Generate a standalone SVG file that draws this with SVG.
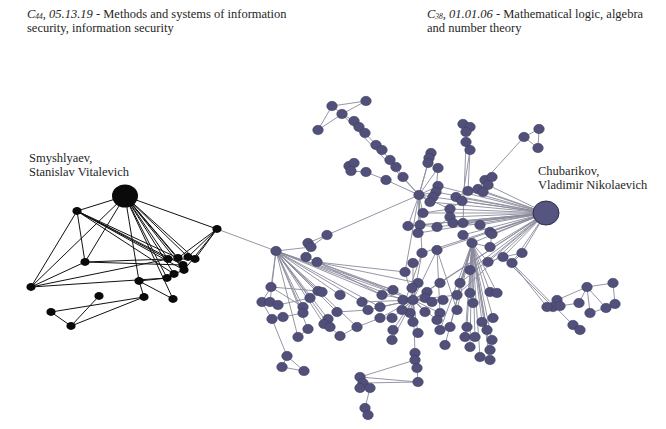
<svg xmlns="http://www.w3.org/2000/svg" width="666" height="429" viewBox="0 0 666 429">
<style>
.t{font-family:"Liberation Serif","Times New Roman",serif;font-size:12.5px;fill:#262626}
.it{font-style:italic}
.sub{font-size:7.5px;font-style:italic}
.ek{stroke:#111;stroke-width:1;fill:none}
.eg{stroke:#8a8a9c;stroke-width:0.9;fill:none}
.nk ellipse{fill:#0a0a0a}
.ng ellipse{fill:#50507a;stroke:#3c3c5c;stroke-width:0.5}
</style>
<rect width="666" height="429" fill="#fff"/>
<g id="titles">
<text class="t" x="27" y="18"><tspan class="it">C</tspan><tspan class="sub" dy="1">44</tspan><tspan class="it" dy="-1">, 05.13.19</tspan> - Methods and systems of information</text>
<text class="t" x="27" y="32">security, information security</text>
<text class="t" x="427" y="18"><tspan class="it">C</tspan><tspan class="sub" dy="1">38</tspan><tspan class="it" dy="-1">, 01.01.06</tspan> - Mathematical logic, algebra</text>
<text class="t" x="427" y="32">and number theory</text>
</g>
<g id="connectors">
<path class="ek" d="M125 196L77 211M125 196L217 229M125 196L85 262M125 196L31 287M125 196L168 259M125 196L178 258M125 196L188 257M125 196L195 259M125 196L183 265M125 196L184 270M125 196L174 274M125 196L167 278M125 196L139 281M125 196L173 299
M77 211L85 262M77 211L31 287M77 211L168 259M77 211L178 258M77 211L183 265M77 211L184 270M77 211L174 274
M31 287L85 262M31 287L168 259M31 287L167 278M85 262L168 259M85 262L183 265
M217 229L188 257M217 229L195 259M217 229L184 270M217 229L178 258
M139 281L167 278M167 278L174 274M174 274L184 270M139 281L144 297M139 281L173 299M51 312L144 297M71 326L144 297M51 312L71 326M99 296L71 326M168 259L195 259"/>
<path class="eg" d="M217 229L276 251"/>
<path class="eg" d="M546 213L438 186M546 213L436 192M546 213L433 197M546 213L430 202M546 213L456 197M546 213L462 201M546 213L468 191M546 213L478 189M546 213L483 192M546 213L488 185M546 213L450 209M546 213L423 213M546 213L450 217M546 213L420 225M546 213L408 226M546 213L437 227M546 213L453 223M546 213L463 223M546 213L480 225M546 213L490 232M546 213L463 235M546 213L472 243M546 213L490 247M546 213L492 234M546 213L418 233M546 213L437 250M546 213L422 253M546 213L503 257M546 213L512 263M546 213L522 253M546 213L488 262M546 213L470 270M546 213L460 283M546 213L440 283M546 213L413 300M546 213L457 295"/>
<path class="eg" d="M419 195L403 177M419 195L386 180M419 195L428 163M419 195L438 168M419 195L327 235M419 195L438 186M419 195L436 192M419 195L433 197M419 195L430 202M419 195L423 213M419 195L420 225M419 195L408 226M419 195L450 209M419 195L342 114M419 195L431 153M419 195L418 233M419 195L422 253M419 195L405 272"/>
<path class="eg" d="M276 251L271 287M276 251L303 307M276 251L303 313M276 251L318 291M276 251L322 292M276 251L340 295M276 251L310 298M276 251L328 319M276 251L324 324M276 251L330 327M276 251L308 329M276 251L337 312M276 251L382 295M276 251L393 290M276 251L413 300M276 251L403 300M276 251L362 302M276 251L357 327M276 251L298 337M276 251L270 302M276 251L311 247M276 251L380 307"/>
<path class="eg" d="M413 300L403 300M413 300L425 298M413 300L432 302M413 300L410 313M413 300L402 310M413 300L425 312M413 300L440 313M413 300L413 322M413 300L418 333M413 300L393 330M413 300L392 340M413 300L380 318M413 300L392 318M413 300L380 307M413 300L368 310M413 300L362 302M413 300L382 295M413 300L393 290M413 300L412 288M413 300L418 283M413 300L427 292M413 300L405 272M413 300L413 263M413 300L422 253M413 300L437 250M413 300L440 283M413 300L443 300M413 300L457 295M413 300L437 320M413 300L415 353"/>
<path class="eg" d="M472 243L482 322M472 243L493 318M472 243L487 330M472 243L492 340M472 243L467 327M472 243L450 327M472 243L465 337M472 243L475 337M472 243L470 347M472 243L490 350M472 243L480 357M472 243L490 360M472 243L473 303M472 243L457 310M472 243L470 293M472 243L490 292M472 243L497 293M472 243L460 283M472 243L488 262M472 243L470 270M472 243L440 330M472 243L445 345M472 243L457 295"/>
<path class="eg" d="M332 106L366 101M332 106L342 114M366 101L342 114M318 130L332 106M318 130L342 114M342 114L354 121L359 127L365 133L376 145L382 150L390 160L396 167L403 177
M349 166L354 163M354 163L351 171M349 166L351 171M351 171L366 172L386 180
M463 124L470 127M470 127L466 132M463 124L466 132M466 132L466 142M466 142L470 150M470 150L468 191M466 142L463 223M470 150L462 201
M431 153L429 158M429 158L428 163M431 153L428 163M438 168L436 192
M524 137L539 129M539 129L538 148M524 137L538 148M524 137L485 180
M485 180L492 177M492 177L488 185M485 180L478 189M478 189L468 191M488 185L483 192M468 191L456 197M456 197L462 201M438 186L436 192M436 192L433 197M433 197L430 202M462 201L450 209M450 209L423 213M450 217L437 227M437 227L420 225M420 225L408 226M453 223L463 223M463 223L480 225M480 225L490 232M463 235L472 243M472 243L490 247M490 247L492 234
M503 257L512 263M512 263L522 253M503 257L522 253M512 263L547 307M503 257L553 307M512 263L573 325M488 262L503 257
M547 307L553 307M553 307L560 306M557 300L560 306M553 307L557 300M557 300L587 287M587 287L613 283M587 287L579 303M587 287L590 313M587 287L606 308M606 308L615 304M615 304L613 283M590 313L606 308M560 306L579 303M573 325L580 330
M308 243L327 235M311 247L327 235M308 243L311 247M306 257L317 262M306 257L311 247
M317 262L405 272M317 262L413 300M317 262L393 290M317 262L382 295M317 262L418 283
M271 287L318 291M262 302L270 302M270 302L278 305M262 302L271 287M278 305L310 298M271 287L303 307
M272 319L283 317M272 319L287 356M287 356L282 367M282 367L304 371M287 356L304 371M283 317L303 313M262 302L272 319
M415 353L415 360M415 360L417 368M417 368L418 382M360 377L418 382M363 383L418 382M360 377L415 360M360 377L363 383M363 383L360 388M360 388L370 388M363 383L370 388M370 388L365 408M365 408L368 415
M340 336L330 327M340 336L357 327M337 312L368 310M357 327L380 318M298 337L308 329M437 250L440 313M437 250L457 310M422 253L402 310"/>
</g>
<g id="smyshlyaev" class="nk"><ellipse cx="125" cy="196" rx="13" ry="11.5"/><text class="t" x="29" y="162">Smyshlyaev,</text><text class="t" x="29" y="176">Stanislav Vitalevich</text></g>
<g id="chubarikov" class="ng"><ellipse cx="546" cy="213" rx="13" ry="12" style="fill:#55557f;stroke:#2e2e48;stroke-width:1"/><text class="t" x="538" y="175">Chubarikov,</text><text class="t" x="538" y="189">Vladimir Nikolaevich</text></g>
<g class="nk">
<g id="k1"><ellipse cx="77" cy="211" rx="4.6" ry="3.9"/></g>
<g id="k2"><ellipse cx="217" cy="229" rx="4.6" ry="3.9"/></g>
<g id="k3"><ellipse cx="85" cy="262" rx="4.6" ry="3.9"/></g>
<g id="k4"><ellipse cx="31" cy="287" rx="4.6" ry="3.9"/></g>
<g id="k5"><ellipse cx="168" cy="259" rx="4.6" ry="3.9"/></g>
<g id="k6"><ellipse cx="178" cy="258" rx="4.6" ry="3.9"/></g>
<g id="k7"><ellipse cx="188" cy="257" rx="4.6" ry="3.9"/></g>
<g id="k8"><ellipse cx="195" cy="259" rx="4.6" ry="3.9"/></g>
<g id="k9"><ellipse cx="183" cy="265" rx="4.6" ry="3.9"/></g>
<g id="k10"><ellipse cx="184" cy="270" rx="4.6" ry="3.9"/></g>
<g id="k11"><ellipse cx="174" cy="274" rx="4.6" ry="3.9"/></g>
<g id="k12"><ellipse cx="167" cy="278" rx="4.6" ry="3.9"/></g>
<g id="k13"><ellipse cx="139" cy="281" rx="4.6" ry="3.9"/></g>
<g id="k14"><ellipse cx="144" cy="297" rx="4.6" ry="3.9"/></g>
<g id="k15"><ellipse cx="173" cy="299" rx="4.6" ry="3.9"/></g>
<g id="k16"><ellipse cx="99" cy="296" rx="4.6" ry="3.9"/></g>
<g id="k17"><ellipse cx="51" cy="312" rx="4.6" ry="3.9"/></g>
<g id="k18"><ellipse cx="71" cy="326" rx="4.6" ry="3.9"/></g>
</g>
<g class="ng">
<g id="r1"><ellipse cx="332" cy="106" rx="5.3" ry="4.7"/></g>
<g id="r2"><ellipse cx="366" cy="101" rx="5.3" ry="4.7"/></g>
<g id="r3"><ellipse cx="342" cy="114" rx="5.3" ry="4.7"/></g>
<g id="r4"><ellipse cx="318" cy="130" rx="5.3" ry="4.7"/></g>
<g id="r5"><ellipse cx="354" cy="121" rx="5.3" ry="4.7"/></g>
<g id="r6"><ellipse cx="359" cy="127" rx="5.3" ry="4.7"/></g>
<g id="r7"><ellipse cx="365" cy="133" rx="5.3" ry="4.7"/></g>
<g id="r8"><ellipse cx="376" cy="145" rx="5.3" ry="4.7"/></g>
<g id="r9"><ellipse cx="382" cy="150" rx="5.3" ry="4.7"/></g>
<g id="r10"><ellipse cx="390" cy="160" rx="5.3" ry="4.7"/></g>
<g id="r11"><ellipse cx="396" cy="167" rx="5.3" ry="4.7"/></g>
<g id="r12"><ellipse cx="403" cy="177" rx="5.3" ry="4.7"/></g>
<g id="r13"><ellipse cx="419" cy="195" rx="5.3" ry="4.7"/></g>
<g id="r14"><ellipse cx="349" cy="166" rx="5.3" ry="4.7"/></g>
<g id="r15"><ellipse cx="354" cy="163" rx="5.3" ry="4.7"/></g>
<g id="r16"><ellipse cx="351" cy="171" rx="5.3" ry="4.7"/></g>
<g id="r17"><ellipse cx="366" cy="172" rx="5.3" ry="4.7"/></g>
<g id="r18"><ellipse cx="386" cy="180" rx="5.3" ry="4.7"/></g>
<g id="r19"><ellipse cx="463" cy="124" rx="5.3" ry="4.7"/></g>
<g id="r20"><ellipse cx="470" cy="127" rx="5.3" ry="4.7"/></g>
<g id="r21"><ellipse cx="466" cy="132" rx="5.3" ry="4.7"/></g>
<g id="r22"><ellipse cx="466" cy="142" rx="5.3" ry="4.7"/></g>
<g id="r23"><ellipse cx="470" cy="150" rx="5.3" ry="4.7"/></g>
<g id="r24"><ellipse cx="431" cy="153" rx="5.3" ry="4.7"/></g>
<g id="r25"><ellipse cx="429" cy="158" rx="5.3" ry="4.7"/></g>
<g id="r26"><ellipse cx="428" cy="163" rx="5.3" ry="4.7"/></g>
<g id="r27"><ellipse cx="438" cy="168" rx="5.3" ry="4.7"/></g>
<g id="r28"><ellipse cx="524" cy="137" rx="5.3" ry="4.7"/></g>
<g id="r29"><ellipse cx="539" cy="129" rx="5.3" ry="4.7"/></g>
<g id="r30"><ellipse cx="538" cy="148" rx="5.3" ry="4.7"/></g>
<g id="r31"><ellipse cx="438" cy="186" rx="5.3" ry="4.7"/></g>
<g id="r32"><ellipse cx="436" cy="192" rx="5.3" ry="4.7"/></g>
<g id="r33"><ellipse cx="433" cy="197" rx="5.3" ry="4.7"/></g>
<g id="r34"><ellipse cx="430" cy="202" rx="5.3" ry="4.7"/></g>
<g id="r35"><ellipse cx="456" cy="197" rx="5.3" ry="4.7"/></g>
<g id="r36"><ellipse cx="462" cy="201" rx="5.3" ry="4.7"/></g>
<g id="r37"><ellipse cx="468" cy="191" rx="5.3" ry="4.7"/></g>
<g id="r38"><ellipse cx="478" cy="189" rx="5.3" ry="4.7"/></g>
<g id="r39"><ellipse cx="485" cy="180" rx="5.3" ry="4.7"/></g>
<g id="r40"><ellipse cx="492" cy="177" rx="5.3" ry="4.7"/></g>
<g id="r41"><ellipse cx="488" cy="185" rx="5.3" ry="4.7"/></g>
<g id="r42"><ellipse cx="483" cy="192" rx="5.3" ry="4.7"/></g>
<g id="r43"><ellipse cx="450" cy="209" rx="5.3" ry="4.7"/></g>
<g id="r44"><ellipse cx="423" cy="213" rx="5.3" ry="4.7"/></g>
<g id="r45"><ellipse cx="450" cy="217" rx="5.3" ry="4.7"/></g>
<g id="r46"><ellipse cx="420" cy="225" rx="5.3" ry="4.7"/></g>
<g id="r47"><ellipse cx="408" cy="226" rx="5.3" ry="4.7"/></g>
<g id="r48"><ellipse cx="437" cy="227" rx="5.3" ry="4.7"/></g>
<g id="r49"><ellipse cx="453" cy="223" rx="5.3" ry="4.7"/></g>
<g id="r50"><ellipse cx="463" cy="223" rx="5.3" ry="4.7"/></g>
<g id="r51"><ellipse cx="480" cy="225" rx="5.3" ry="4.7"/></g>
<g id="r52"><ellipse cx="490" cy="232" rx="5.3" ry="4.7"/></g>
<g id="r53"><ellipse cx="463" cy="235" rx="5.3" ry="4.7"/></g>
<g id="r54"><ellipse cx="472" cy="243" rx="5.3" ry="4.7"/></g>
<g id="r55"><ellipse cx="490" cy="247" rx="5.3" ry="4.7"/></g>
<g id="r56"><ellipse cx="492" cy="234" rx="5.3" ry="4.7"/></g>
<g id="r57"><ellipse cx="418" cy="233" rx="5.3" ry="4.7"/></g>
<g id="r58"><ellipse cx="437" cy="250" rx="5.3" ry="4.7"/></g>
<g id="r59"><ellipse cx="422" cy="253" rx="5.3" ry="4.7"/></g>
<g id="r60"><ellipse cx="413" cy="263" rx="5.3" ry="4.7"/></g>
<g id="r61"><ellipse cx="405" cy="272" rx="5.3" ry="4.7"/></g>
<g id="r62"><ellipse cx="503" cy="257" rx="5.3" ry="4.7"/></g>
<g id="r63"><ellipse cx="512" cy="263" rx="5.3" ry="4.7"/></g>
<g id="r64"><ellipse cx="522" cy="253" rx="5.3" ry="4.7"/></g>
<g id="r65"><ellipse cx="488" cy="262" rx="5.3" ry="4.7"/></g>
<g id="r66"><ellipse cx="470" cy="270" rx="5.3" ry="4.7"/></g>
<g id="r67"><ellipse cx="460" cy="283" rx="5.3" ry="4.7"/></g>
<g id="r68"><ellipse cx="440" cy="283" rx="5.3" ry="4.7"/></g>
<g id="r69"><ellipse cx="418" cy="283" rx="5.3" ry="4.7"/></g>
<g id="r70"><ellipse cx="412" cy="288" rx="5.3" ry="4.7"/></g>
<g id="r71"><ellipse cx="427" cy="292" rx="5.3" ry="4.7"/></g>
<g id="r72"><ellipse cx="393" cy="290" rx="5.3" ry="4.7"/></g>
<g id="r73"><ellipse cx="382" cy="295" rx="5.3" ry="4.7"/></g>
<g id="r74"><ellipse cx="403" cy="300" rx="5.3" ry="4.7"/></g>
<g id="r75"><ellipse cx="413" cy="300" rx="5.3" ry="4.7"/></g>
<g id="r76"><ellipse cx="425" cy="298" rx="5.3" ry="4.7"/></g>
<g id="r77"><ellipse cx="432" cy="302" rx="5.3" ry="4.7"/></g>
<g id="r78"><ellipse cx="443" cy="300" rx="5.3" ry="4.7"/></g>
<g id="r79"><ellipse cx="457" cy="295" rx="5.3" ry="4.7"/></g>
<g id="r80"><ellipse cx="470" cy="293" rx="5.3" ry="4.7"/></g>
<g id="r81"><ellipse cx="490" cy="292" rx="5.3" ry="4.7"/></g>
<g id="r82"><ellipse cx="497" cy="293" rx="5.3" ry="4.7"/></g>
<g id="r83"><ellipse cx="473" cy="303" rx="5.3" ry="4.7"/></g>
<g id="r84"><ellipse cx="457" cy="310" rx="5.3" ry="4.7"/></g>
<g id="r85"><ellipse cx="440" cy="313" rx="5.3" ry="4.7"/></g>
<g id="r86"><ellipse cx="425" cy="312" rx="5.3" ry="4.7"/></g>
<g id="r87"><ellipse cx="410" cy="313" rx="5.3" ry="4.7"/></g>
<g id="r88"><ellipse cx="402" cy="310" rx="5.3" ry="4.7"/></g>
<g id="r89"><ellipse cx="380" cy="307" rx="5.3" ry="4.7"/></g>
<g id="r90"><ellipse cx="368" cy="310" rx="5.3" ry="4.7"/></g>
<g id="r91"><ellipse cx="362" cy="302" rx="5.3" ry="4.7"/></g>
<g id="r92"><ellipse cx="380" cy="318" rx="5.3" ry="4.7"/></g>
<g id="r93"><ellipse cx="392" cy="318" rx="5.3" ry="4.7"/></g>
<g id="r94"><ellipse cx="413" cy="322" rx="5.3" ry="4.7"/></g>
<g id="r95"><ellipse cx="437" cy="320" rx="5.3" ry="4.7"/></g>
<g id="r96"><ellipse cx="450" cy="327" rx="5.3" ry="4.7"/></g>
<g id="r97"><ellipse cx="467" cy="327" rx="5.3" ry="4.7"/></g>
<g id="r98"><ellipse cx="482" cy="322" rx="5.3" ry="4.7"/></g>
<g id="r99"><ellipse cx="493" cy="318" rx="5.3" ry="4.7"/></g>
<g id="r100"><ellipse cx="487" cy="330" rx="5.3" ry="4.7"/></g>
<g id="r101"><ellipse cx="492" cy="340" rx="5.3" ry="4.7"/></g>
<g id="r102"><ellipse cx="393" cy="330" rx="5.3" ry="4.7"/></g>
<g id="r103"><ellipse cx="392" cy="340" rx="5.3" ry="4.7"/></g>
<g id="r104"><ellipse cx="418" cy="333" rx="5.3" ry="4.7"/></g>
<g id="r105"><ellipse cx="440" cy="330" rx="5.3" ry="4.7"/></g>
<g id="r106"><ellipse cx="465" cy="337" rx="5.3" ry="4.7"/></g>
<g id="r107"><ellipse cx="475" cy="337" rx="5.3" ry="4.7"/></g>
<g id="r108"><ellipse cx="470" cy="347" rx="5.3" ry="4.7"/></g>
<g id="r109"><ellipse cx="445" cy="345" rx="5.3" ry="4.7"/></g>
<g id="r110"><ellipse cx="490" cy="350" rx="5.3" ry="4.7"/></g>
<g id="r111"><ellipse cx="480" cy="357" rx="5.3" ry="4.7"/></g>
<g id="r112"><ellipse cx="490" cy="360" rx="5.3" ry="4.7"/></g>
<g id="r113"><ellipse cx="415" cy="353" rx="5.3" ry="4.7"/></g>
<g id="r114"><ellipse cx="415" cy="360" rx="5.3" ry="4.7"/></g>
<g id="r115"><ellipse cx="417" cy="368" rx="5.3" ry="4.7"/></g>
<g id="r116"><ellipse cx="418" cy="382" rx="5.3" ry="4.7"/></g>
<g id="r117"><ellipse cx="557" cy="300" rx="5.3" ry="4.7"/></g>
<g id="r118"><ellipse cx="553" cy="307" rx="5.3" ry="4.7"/></g>
<g id="r119"><ellipse cx="560" cy="306" rx="5.3" ry="4.7"/></g>
<g id="r120"><ellipse cx="547" cy="307" rx="5.3" ry="4.7"/></g>
<g id="r121"><ellipse cx="587" cy="287" rx="5.3" ry="4.7"/></g>
<g id="r122"><ellipse cx="613" cy="283" rx="5.3" ry="4.7"/></g>
<g id="r123"><ellipse cx="579" cy="303" rx="5.3" ry="4.7"/></g>
<g id="r124"><ellipse cx="590" cy="313" rx="5.3" ry="4.7"/></g>
<g id="r125"><ellipse cx="606" cy="308" rx="5.3" ry="4.7"/></g>
<g id="r126"><ellipse cx="615" cy="304" rx="5.3" ry="4.7"/></g>
<g id="r127"><ellipse cx="573" cy="325" rx="5.3" ry="4.7"/></g>
<g id="r128"><ellipse cx="580" cy="330" rx="5.3" ry="4.7"/></g>
<g id="r129"><ellipse cx="276" cy="251" rx="5.3" ry="4.7"/></g>
<g id="r130"><ellipse cx="308" cy="243" rx="5.3" ry="4.7"/></g>
<g id="r131"><ellipse cx="311" cy="247" rx="5.3" ry="4.7"/></g>
<g id="r132"><ellipse cx="327" cy="235" rx="5.3" ry="4.7"/></g>
<g id="r133"><ellipse cx="306" cy="257" rx="5.3" ry="4.7"/></g>
<g id="r134"><ellipse cx="317" cy="262" rx="5.3" ry="4.7"/></g>
<g id="r135"><ellipse cx="271" cy="287" rx="5.3" ry="4.7"/></g>
<g id="r136"><ellipse cx="262" cy="302" rx="5.3" ry="4.7"/></g>
<g id="r137"><ellipse cx="270" cy="302" rx="5.3" ry="4.7"/></g>
<g id="r138"><ellipse cx="278" cy="305" rx="5.3" ry="4.7"/></g>
<g id="r139"><ellipse cx="272" cy="319" rx="5.3" ry="4.7"/></g>
<g id="r140"><ellipse cx="283" cy="317" rx="5.3" ry="4.7"/></g>
<g id="r141"><ellipse cx="287" cy="356" rx="5.3" ry="4.7"/></g>
<g id="r142"><ellipse cx="282" cy="367" rx="5.3" ry="4.7"/></g>
<g id="r143"><ellipse cx="304" cy="371" rx="5.3" ry="4.7"/></g>
<g id="r144"><ellipse cx="318" cy="291" rx="5.3" ry="4.7"/></g>
<g id="r145"><ellipse cx="322" cy="292" rx="5.3" ry="4.7"/></g>
<g id="r146"><ellipse cx="340" cy="295" rx="5.3" ry="4.7"/></g>
<g id="r147"><ellipse cx="310" cy="298" rx="5.3" ry="4.7"/></g>
<g id="r148"><ellipse cx="303" cy="307" rx="5.3" ry="4.7"/></g>
<g id="r149"><ellipse cx="303" cy="313" rx="5.3" ry="4.7"/></g>
<g id="r150"><ellipse cx="337" cy="312" rx="5.3" ry="4.7"/></g>
<g id="r151"><ellipse cx="328" cy="319" rx="5.3" ry="4.7"/></g>
<g id="r152"><ellipse cx="324" cy="324" rx="5.3" ry="4.7"/></g>
<g id="r153"><ellipse cx="330" cy="327" rx="5.3" ry="4.7"/></g>
<g id="r154"><ellipse cx="340" cy="336" rx="5.3" ry="4.7"/></g>
<g id="r155"><ellipse cx="308" cy="329" rx="5.3" ry="4.7"/></g>
<g id="r156"><ellipse cx="298" cy="337" rx="5.3" ry="4.7"/></g>
<g id="r157"><ellipse cx="357" cy="327" rx="5.3" ry="4.7"/></g>
<g id="r158"><ellipse cx="360" cy="377" rx="5.3" ry="4.7"/></g>
<g id="r159"><ellipse cx="363" cy="383" rx="5.3" ry="4.7"/></g>
<g id="r160"><ellipse cx="360" cy="388" rx="5.3" ry="4.7"/></g>
<g id="r161"><ellipse cx="370" cy="388" rx="5.3" ry="4.7"/></g>
<g id="r162"><ellipse cx="365" cy="408" rx="5.3" ry="4.7"/></g>
<g id="r163"><ellipse cx="368" cy="415" rx="5.3" ry="4.7"/></g>
</g>
</svg>
